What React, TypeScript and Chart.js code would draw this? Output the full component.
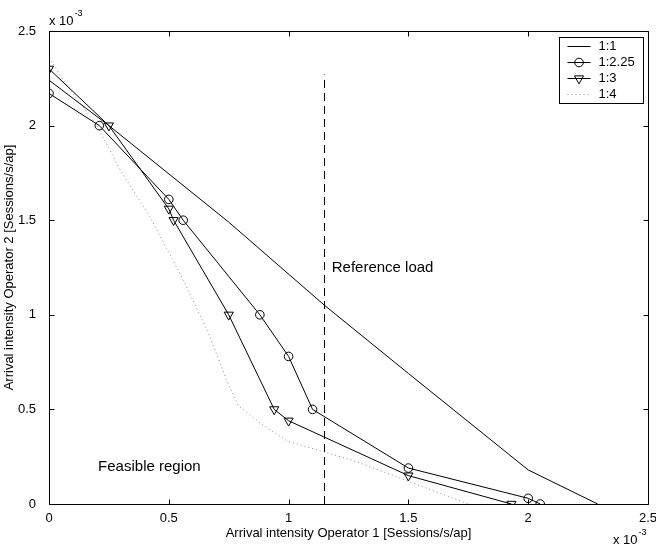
import React, { useEffect, useRef } from "react";
import { Chart, registerables } from "chart.js";
import { drawPoint } from "chart.js/helpers";

Chart.register(...registerables);

const FONT = '"Liberation Sans", Arial, Helvetica, sans-serif';

// ---- data (units of 1e-3 sessions/s/ap) ----
const seriesLabels = ["1:1", "1:2.25", "1:3", "1:4"];

const ratio11X = [0, 0.25, 0.75, 1.15, 1.5, 2.0, 2.29];
const ratio11Y = [2.24, 2.0, 1.49, 1.05, 0.69, 0.18, 0];

const ratio225X = [0, 0.21, 0.5, 0.56, 0.88, 1.0, 1.1, 1.5, 2.0, 2.05];
const ratio225Y = [2.17, 2.0, 1.61, 1.5, 1.0, 0.78, 0.5, 0.19, 0.03, 0];

const ratio13X = [0, 0.25, 0.5, 0.52, 0.75, 0.94, 1.0, 1.5, 1.93];
const ratio13Y = [2.3, 2.0, 1.56, 1.5, 1.0, 0.5, 0.44, 0.15, 0];

const ratio14X = [0, 0.07, 0.2, 0.3, 0.42, 0.55, 0.66, 0.74, 0.79, 0.9, 1.0, 1.27, 1.5, 1.75];
const ratio14Y = [2.36, 2.22, 2.0, 1.76, 1.52, 1.21, 0.92, 0.66, 0.52, 0.41, 0.33, 0.23, 0.12, 0];

const refLoadX = [1.15, 1.15];
const refLoadY = [0, 2.27];

const axisMin = 0;
const axisMax = 2.5;
const tickStep = 0.5;

const xTitle = "Arrival intensity Operator 1 [Sessions/s/ap]";
const yTitle = "Arrival intensity Operator 2 [Sessions/s/ap]";
const scaleMantissa = "x 10";
const scaleExponent = "-3";

const noteTexts = ["Reference load", "Feasible region"];
const noteX = [1.18, 0.205];
const noteY = [1.246, 0.194];

const toPoints = (xs: number[], ys: number[]) => xs.map((x, i) => ({ x, y: ys[i] }));
const fmtTick = (v: any) => String(Math.round(Number(v) * 10) / 10);

const framePlugin = {
  id: "matlabFrame",
  afterDraw(chart: any) {
    const { ctx, chartArea: a, scales } = chart;
    const xs = scales.x;
    const ys = scales.y;
    ctx.save();
    ctx.strokeStyle = "#000";
    ctx.lineWidth = 1;
    const L = Math.round(a.left) + 0.5;
    const R = Math.round(a.right) + 0.5;
    const T = Math.round(a.top) + 0.5;
    const B = Math.round(a.bottom) + 0.5;
    ctx.beginPath();
    ctx.rect(L, T, R - L, B - T);
    ctx.stroke();
    const tl = 5;
    ctx.beginPath();
    xs.ticks.forEach((t: any) => {
      const px = Math.round(xs.getPixelForValue(t.value)) + 0.5;
      ctx.moveTo(px, B);
      ctx.lineTo(px, B - tl);
      ctx.moveTo(px, T);
      ctx.lineTo(px, T + tl);
    });
    ys.ticks.forEach((t: any) => {
      const py = Math.round(ys.getPixelForValue(t.value)) + 0.5;
      ctx.moveTo(L, py);
      ctx.lineTo(L + tl, py);
      ctx.moveTo(R, py);
      ctx.lineTo(R - tl, py);
    });
    ctx.stroke();

    // exponent labels
    ctx.fillStyle = "#000";
    ctx.textAlign = "left";
    ctx.textBaseline = "alphabetic";
    ctx.font = `13px ${FONT}`;
    const mw = ctx.measureText(scaleMantissa).width;
    ctx.fillText(scaleMantissa, a.left, a.top - 6);
    ctx.fillText(scaleMantissa, a.right - 35, a.bottom + 40);
    ctx.font = `9px ${FONT}`;
    ctx.fillText(scaleExponent, a.left + mw + 1, a.top - 15);
    ctx.fillText(scaleExponent, a.right - 35 + mw + 1, a.bottom + 31);

    // annotations
    ctx.font = `15px ${FONT}`;
    ctx.textBaseline = "middle";
    noteTexts.forEach((txt, i) => {
      ctx.fillText(txt, xs.getPixelForValue(noteX[i]), ys.getPixelForValue(noteY[i]));
    });

    // legend
    const bw = 84;
    const bh = 66;
    const bl = Math.round(a.right) - 89 + 0.5;
    const bt = Math.round(a.top) + 6 + 0.5;
    ctx.fillStyle = "#fff";
    ctx.fillRect(bl, bt, bw, bh);
    ctx.strokeStyle = "#000";
    ctx.lineWidth = 1;
    ctx.strokeRect(bl, bt, bw, bh);
    const dsets = chart.data.datasets.slice(0, seriesLabels.length);
    ctx.font = `13px ${FONT}`;
    ctx.textBaseline = "middle";
    dsets.forEach((d: any, i: number) => {
      const yy = Math.round(bt + 8 + i * 16.2) + 0.5;
      const x0 = bl + 8;
      const x1 = bl + 31;
      ctx.save();
      ctx.strokeStyle = d.borderColor;
      ctx.lineWidth = d.borderWidth;
      ctx.setLineDash(d.borderDash || []);
      ctx.beginPath();
      ctx.moveTo(x0, yy);
      ctx.lineTo(x1, yy);
      ctx.stroke();
      ctx.restore();
      if (d.pointRadius > 0) {
        ctx.save();
        ctx.strokeStyle = d.pointBorderColor;
        ctx.fillStyle = "rgba(0,0,0,0)";
        ctx.lineWidth = d.pointBorderWidth;
        drawPoint(ctx, {
          pointStyle: d.pointStyle,
          rotation: d.pointRotation || 0,
          radius: d.pointRadius,
          borderWidth: d.pointBorderWidth,
        } as any, (x0 + x1) / 2, yy);
        ctx.restore();
      }
      ctx.fillStyle = "#000";
      ctx.fillText(d.label, bl + 39, yy);
    });
    ctx.restore();
  },
};

export default function App() {
  const ref = useRef<HTMLCanvasElement | null>(null);

  useEffect(() => {
    if (!ref.current) return;
    const chart = new Chart(ref.current, {
      type: "scatter",
      data: {
        datasets: [
          {
            label: seriesLabels[0],
            data: toPoints(ratio11X, ratio11Y),
            showLine: true,
            borderColor: "#000",
            borderWidth: 1,
            pointRadius: 0,
          },
          {
            label: seriesLabels[1],
            data: toPoints(ratio225X, ratio225Y),
            showLine: true,
            borderColor: "#000",
            borderWidth: 1,
            pointStyle: "circle",
            pointRadius: 4.3,
            pointBorderColor: "#000",
            pointBackgroundColor: "rgba(0,0,0,0)",
            pointBorderWidth: 1,
          },
          {
            label: seriesLabels[2],
            data: toPoints(ratio13X, ratio13Y),
            showLine: true,
            borderColor: "#000",
            borderWidth: 1,
            pointStyle: "triangle",
            pointRotation: 180,
            pointRadius: 5.3,
            pointBorderColor: "#000",
            pointBackgroundColor: "rgba(0,0,0,0)",
            pointBorderWidth: 1,
          },
          {
            label: seriesLabels[3],
            data: toPoints(ratio14X, ratio14Y),
            showLine: true,
            borderColor: "#888",
            borderWidth: 1,
            borderDash: [1, 3],
            pointRadius: 0,
          },
          {
            label: "Reference load",
            data: toPoints(refLoadX, refLoadY),
            showLine: true,
            borderColor: "#000",
            borderWidth: 1,
            borderDash: [8, 5],
            pointRadius: 0,
          },
        ] as any,
      },
      options: {
        responsive: false,
        animation: false,
        events: [],
        layout: { padding: { top: 31, right: 8, left: 0, bottom: 0 } },
        plugins: { legend: { display: false }, tooltip: { enabled: false } },
        scales: {
          x: {
            type: "linear",
            min: axisMin,
            max: axisMax,
            grid: { display: false },
            border: { display: false },
            ticks: {
              stepSize: tickStep,
              color: "#000",
              font: { family: FONT, size: 13 },
              padding: -1,
              maxRotation: 0,
              callback: fmtTick,
            },
            title: {
              display: true,
              text: xTitle,
              color: "#000",
              font: { family: FONT, size: 13 },
              padding: { top: 0, bottom: 5 },
            },
            afterFit(scale: any) {
              scale.height = 42;
              scale.paddingLeft = 0;
              scale.paddingRight = 0;
            },
          },
          y: {
            type: "linear",
            min: axisMin,
            max: axisMax,
            grid: { display: false },
            border: { display: false },
            ticks: {
              stepSize: tickStep,
              color: "#000",
              font: { family: FONT, size: 13 },
              padding: 5,
              callback: fmtTick,
            },
            title: {
              display: true,
              text: yTitle,
              color: "#000",
              font: { family: FONT, size: 13 },
              padding: { top: 2, bottom: 0 },
            },
            afterFit(scale: any) {
              scale.width = 49;
              scale.paddingTop = 0;
              scale.paddingBottom = 0;
            },
          },
        },
      } as any,
      plugins: [framePlugin],
    });
    return () => chart.destroy();
  }, []);

  return (
    <div style={{ position: "fixed", left: 0, top: 0, width: 656, height: 546, background: "#fff" }}>
      <canvas ref={ref} width={656} height={546} style={{ display: "block" }} />
    </div>
  );
}
